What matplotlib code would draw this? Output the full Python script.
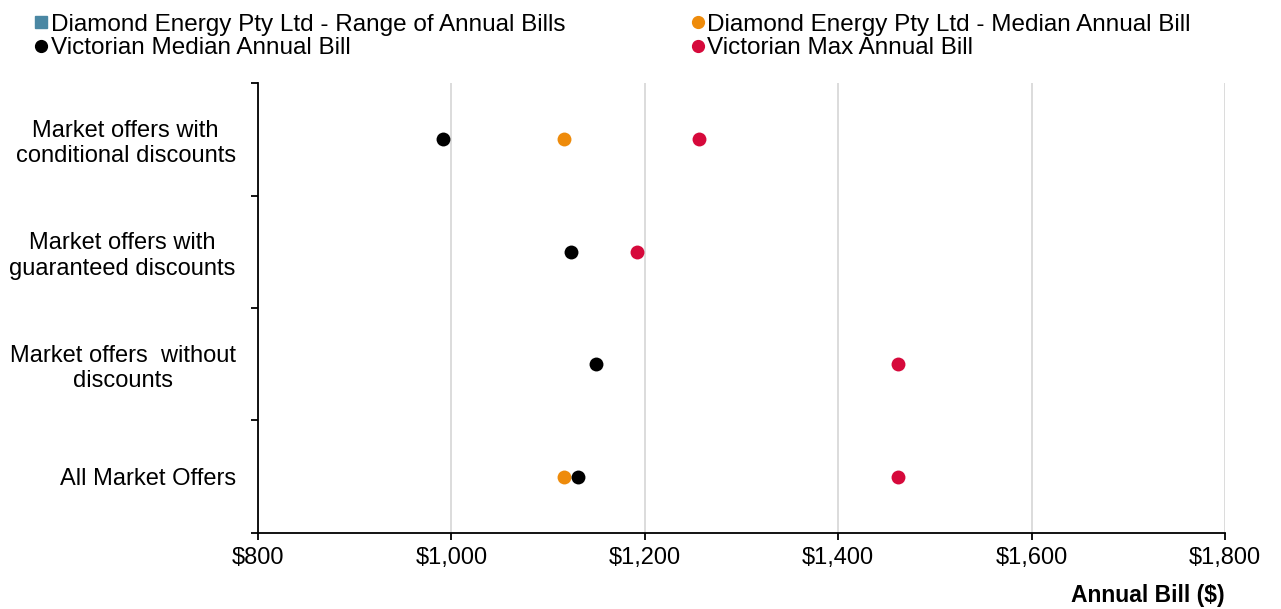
import numpy as np
import matplotlib.pyplot as plt
from matplotlib.lines import Line2D

# Data
categories = ['Market offers with\nconditional discounts',
              'Market offers with\nguaranteed discounts',
              'Market offers  without\ndiscounts',
              'All Market Offers']
vic_median = [991, 1124, 1150, 1131]
vic_max = [1256, 1192, 1462, 1462]
diamond_median = [1116, np.nan, np.nan, 1116]

series_names = ['Diamond Energy Pty Ltd - Range of Annual Bills',
                'Diamond Energy Pty Ltd - Median Annual Bill',
                'Victorian Median Annual Bill',
                'Victorian Max Annual Bill']
x_ticks = [800, 1000, 1200, 1400, 1600, 1800]

c_range = '#4A87A3'
c_orange = '#EE8B0B'
c_black = '#000000'
c_red = '#D6093B'

plt.rcParams['font.family'] = ['Liberation Sans', 'DejaVu Sans']

fig = plt.figure(figsize=(12.81, 6.09), dpi=100)
ax = fig.add_axes([0.2014, 0.1248, 0.7549, 0.7389])

y = np.arange(len(categories))
ax.scatter(diamond_median, y, s=100, color=c_orange, zorder=3, linewidths=0)
ax.scatter(vic_median, y, s=100, color=c_black, zorder=4, linewidths=0)
ax.scatter(vic_max, y, s=100, color=c_red, zorder=3, linewidths=0)

ax.set_xlim(800, 1800)
ax.set_ylim(len(categories) - 0.5, -0.5)
ax.set_xticks(x_ticks)
ax.set_xticklabels([f'${v:,}' for v in x_ticks], fontsize=17)
ax.xaxis.grid(True, color='#D9D9D9', linewidth=1.3)
ax.set_axisbelow(True)

ax.set_yticks(y)
ax.set_yticklabels(categories, fontsize=17, multialignment='center')
ax.tick_params(axis='y', which='major', length=0, pad=16)
ax.set_yticks(np.arange(-0.5, len(categories) + 0.5, 1), minor=True)
ax.tick_params(axis='y', which='minor', length=5, width=1.3, direction='out')
ax.tick_params(axis='x', length=5, width=1.3, direction='out', pad=5)

for side in ['top', 'right']:
    ax.spines[side].set_visible(False)
for side in ['left', 'bottom']:
    ax.spines[side].set_linewidth(1.3)

ax.set_xlabel('Annual Bill ($)', fontsize=16.5, fontweight='heavy',
              loc='right', labelpad=11)

handles = [
    Line2D([], [], marker='s', color=c_range, linestyle='none', markersize=8),
    Line2D([], [], marker='o', color=c_black, linestyle='none', markersize=8.5),
    Line2D([], [], marker='o', color=c_orange, linestyle='none', markersize=8.5),
    Line2D([], [], marker='o', color=c_red, linestyle='none', markersize=8.5),
]
labels = [series_names[0], series_names[2], series_names[1], series_names[3]]
fig.legend(handles, labels, ncol=2, loc='upper left', bbox_to_anchor=(0.014, 1.005),
           frameon=False, fontsize=17.5, handlelength=0.5, handletextpad=0.15,
           columnspacing=5.2, labelspacing=0.05, borderaxespad=0.3)

fig.savefig('out.png', dpi=100)
